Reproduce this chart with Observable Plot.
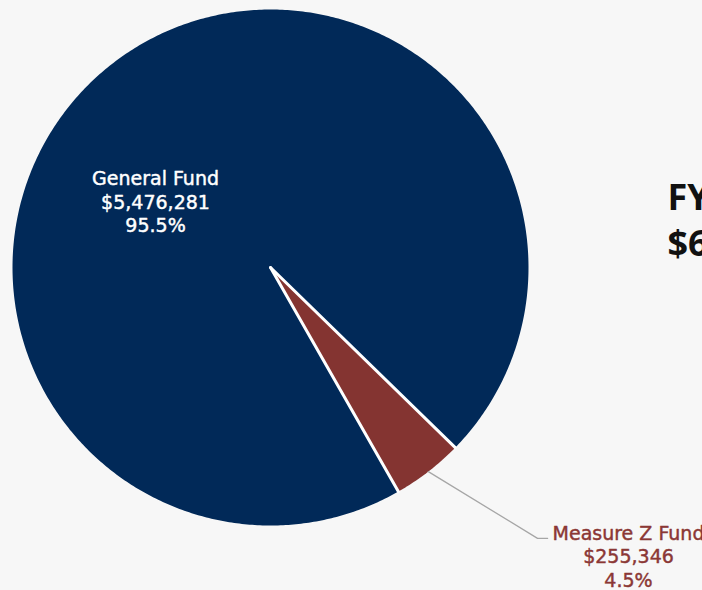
<!DOCTYPE html>
<html>
<head>
<meta charset="utf-8">
<script src="https://cdn.jsdelivr.net/npm/d3@7"></script>
<script src="https://cdn.jsdelivr.net/npm/@observablehq/plot@0.6"></script>
<style>
  html, body { margin: 0; padding: 0; background: #f7f7f7; }
  #chart { width: 702px; height: 590px; overflow: hidden; }
</style>
</head>
<body>
<div id="chart"></div>
<script>
const categories = ["General Fund", "Measure Z Fund"];
const amounts = [5476281, 255346];
const percentLabels = ["95.5%", "4.5%"];
const amountLabels = ["$5,476,281", "$255,346"];
const sliceColors = ["#012958", "#843431"];
const titleLines = ["FY", "$6"];

const data = categories.map((c, i) => ({category: c, amount: amounts[i], pct: percentLabels[i], amt: amountLabels[i]}));

const start = 150.3 * Math.PI / 180;
const arcs = d3.pie().sort(null).value(d => d.amount).startAngle(start).endAngle(start + 2 * Math.PI)(data);

const polar = (a, r) => ({x: r * Math.sin(a), y: r * Math.cos(a)});

function slicePoints(arc) {
  const pts = [{x: 0, y: 0}];
  const n = Math.max(4, Math.ceil((arc.endAngle - arc.startAngle) / 0.01));
  for (let k = 0; k <= n; k++) {
    const a = arc.startAngle + (arc.endAngle - arc.startAngle) * k / n;
    pts.push(polar(a, 1));
  }
  return pts;
}

const gf = arcs[0], mz = arcs[1];
const mzMid = (mz.startAngle + mz.endAngle) / 2;
const separators = arcs.flatMap((arc, i) => [{x: 0, y: 0, s: i}, {...polar(arc.startAngle, 1), s: i}]);
const gfLabel = {x: -0.4457, y: 0.1357, text: `${gf.data.category}\n${gf.data.amt}\n${gf.data.pct}`};
const mzAnchor = polar(mzMid, 1.0);
const leader = [mzAnchor, {x: 1.035, y: -1.05}, {x: 1.074, y: -1.05}];
const mzLabel = {x: 1.3876, y: -1.240, text: `${mz.data.category}\n${mz.data.amt}\n${mz.data.pct}`};

const marks = arcs.map((arc, i) =>
  Plot.line(slicePoints(arc), {x: "x", y: "y", fill: sliceColors[i], stroke: "none", curve: "linear-closed"})
);
marks.push(Plot.line(separators, {x: "x", y: "y", z: "s", stroke: "white", strokeWidth: 3, strokeLinecap: "round"}));
marks.push(Plot.line(leader, {x: "x", y: "y", stroke: "#a6a6a6", strokeWidth: 1.3}));
marks.push(Plot.text([gfLabel], {x: "x", y: "y", text: "text", fill: "white", stroke: "white", strokeWidth: 0.45, fontSize: 19, fontFamily: "'DejaVu Sans', sans-serif", lineHeight: 1.26, lineAnchor: "bottom"}));
marks.push(Plot.text([mzLabel], {x: "x", y: "y", text: "text", fill: "#8b3735", stroke: "#8b3735", strokeWidth: 0.45, fontSize: 19, fontFamily: "'DejaVu Sans', sans-serif", lineHeight: 1.26, lineAnchor: "bottom"}));
marks.push(Plot.text([titleLines[0]], {frameAnchor: "top-left", dx: 667, dy: 209, text: d => d, fill: "#111", fontSize: 36, fontWeight: 700, fontFamily: "'Open Sans', sans-serif", textAnchor: "start", lineAnchor: "bottom"}));
marks.push(Plot.text([titleLines[1]], {frameAnchor: "top-left", dx: 667, dy: 255, text: d => d, fill: "#111", fontSize: 36, fontWeight: 700, fontFamily: "'Open Sans', sans-serif", textAnchor: "start", lineAnchor: "bottom"}));

const chart = Plot.plot({
  width: 702,
  height: 590,
  margin: 0,
  x: {domain: [-1, 1], range: [12, 528], axis: null},
  y: {domain: [-1, 1], range: [525, 9], axis: null},
  style: {background: "#f7f7f7", fontFamily: "'DejaVu Sans', sans-serif", overflow: "hidden"},
  marks
});
document.getElementById("chart").appendChild(chart);
</script>
</body>
</html>
